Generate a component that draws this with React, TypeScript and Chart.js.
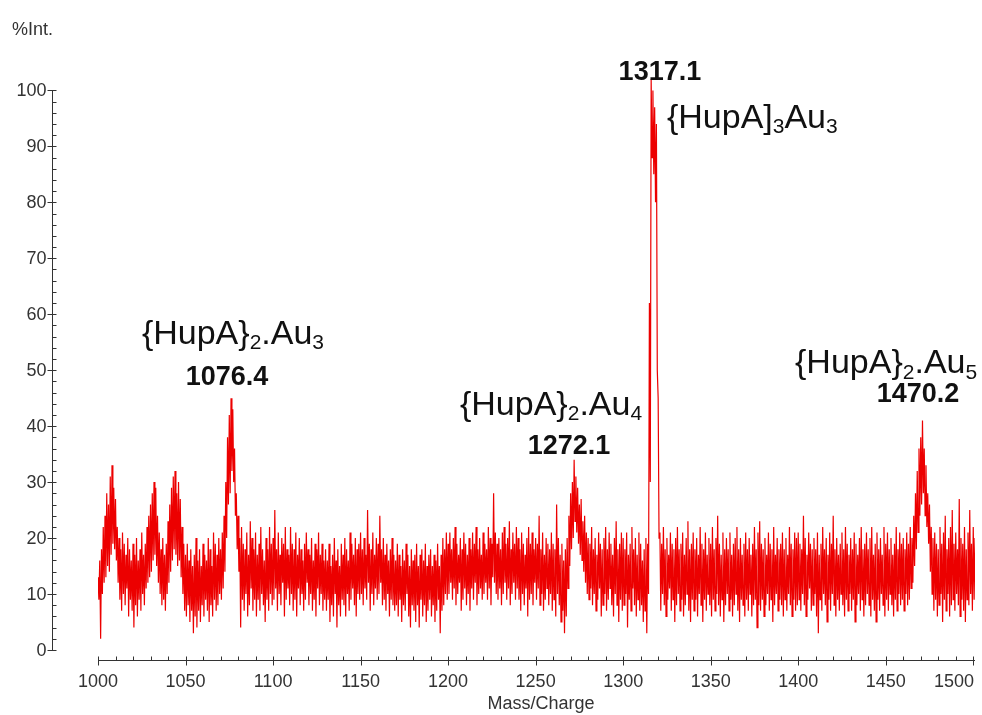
import React, { useEffect, useRef } from 'react';
import { Chart, registerables } from 'chart.js';

Chart.register(...registerables);

// First m/z of the data; each array entry covers one m/z unit.
const mzStart = 1000;

// Upper (hi) and lower (lo) edge of the noisy trace, per m/z unit.
const hi1000 = [
  13, 16, 18, 22, 24, 28, 26, 31, 33, 29,
  27, 22, 20, 18, 21, 19, 17, 20, 18, 16,
  19, 17, 20, 16, 18, 21, 17, 19, 22, 24,
  26, 28, 30, 29, 24, 21, 18, 20, 17, 19,
  23, 26, 29, 31, 32, 28, 30, 27, 22, 19,
  17, 19, 16, 18, 15, 17, 20, 16, 18, 15,
  19, 17, 16, 20, 18, 15, 21, 19, 17, 20,
  18, 21, 24, 30, 38, 42, 45, 43, 36, 28,
  24, 20, 22, 19, 18, 21, 17, 23, 20, 18,
  21, 17, 19, 22, 18, 16, 20, 18, 22, 19,
];
const lo1000 = [
  9, 2, 10, 12, 13, 15, 14, 17, 19, 18,
  16, 12, 9, 7, 10, 8, 11, 6, 9, 7,
  4, 8, 6, 9, 7, 10, 8, 11, 12, 13,
  14, 16, 17, 15, 12, 10, 8, 9, 7, 10,
  12, 14, 16, 18, 17, 15, 16, 13, 10, 7,
  6, 8, 5, 7, 3, 6, 4, 7, 5, 8,
  6, 9, 7, 5, 8, 6, 9, 7, 8, 10,
  9, 11, 14, 20, 26, 28, 32, 30, 24, 18,
  14, 4, 9, 7, 10, 6, 8, 11, 7, 9,
  6, 9, 7, 10, 8, 5, 9, 7, 10, 8,
];

const hi1100 = [
  20, 25, 18, 21, 17, 20, 19, 22, 18, 17,
  22, 19, 18, 21, 17, 20, 18, 16, 19, 21,
  18, 17, 20, 16, 19, 18, 21, 17, 19, 16,
  18, 16, 19, 15, 17, 20, 16, 18, 15, 19,
  17, 20, 18, 16, 21, 19, 17, 20, 18, 19,
  21, 18, 20, 17, 25, 19, 18, 21, 17, 20,
  19, 24, 18, 20, 17, 19, 16, 18, 20, 17,
  16, 19, 17, 15, 18, 16, 19, 17, 15, 18,
  16, 17, 19, 15, 17, 18, 16, 19, 15, 17,
  18, 15, 17, 16, 19, 15, 17, 20, 18, 21,
];
const lo1100 = [
  9, 11, 7, 10, 8, 12, 6, 9, 11, 8,
  10, 7, 9, 6, 11, 8, 10, 7, 9, 12,
  8, 10, 7, 9, 6, 11, 8, 10, 7, 9,
  7, 9, 5, 8, 6, 10, 4, 8, 6, 9,
  8, 6, 10, 7, 9, 11, 8, 6, 10, 9,
  10, 8, 11, 9, 12, 7, 10, 8, 11, 9,
  10, 12, 8, 9, 7, 10, 6, 9, 8, 7,
  8, 6, 9, 5, 8, 7, 10, 6, 4, 8,
  7, 5, 8, 4, 9, 6, 8, 5, 7, 9,
  6, 8, 5, 7, 9, 3, 7, 8, 10, 9,
];

const hi1200 = [
  19, 21, 18, 20, 22, 19, 17, 20, 18, 21,
  19, 17, 20, 18, 21, 19, 22, 18, 20, 17,
  21, 19, 18, 22, 20, 19, 28, 21, 19, 20,
  18, 21, 22, 19, 20, 23, 18, 21, 19, 22,
  20, 18, 21, 19, 17, 20, 22, 19, 21, 18,
  20, 19, 24, 18, 21, 17, 20, 19, 18, 21,
  19, 18, 26, 20, 17, 19, 16, 18, 20, 24,
  28, 30, 34, 31, 29, 26, 27, 23, 24, 21,
  20, 19, 22, 18, 20, 17, 21, 19, 18, 20,
  22, 18, 21, 19, 17, 20, 23, 18, 19, 21,
];
const lo1200 = [
  10, 12, 9, 11, 8, 10, 12, 7, 9, 11,
  8, 10, 7, 11, 9, 12, 8, 10, 11, 9,
  10, 12, 9, 11, 8, 13, 12, 10, 9, 11,
  8, 10, 12, 9, 11, 8, 10, 12, 9, 11,
  9, 7, 10, 8, 11, 6, 9, 10, 8, 12,
  9, 11, 8, 10, 7, 9, 11, 8, 10, 7,
  9, 6, 10, 8, 5, 7, 3, 6, 11, 15,
  18, 20, 23, 21, 19, 17, 16, 14, 12, 10,
  9, 11, 8, 10, 7, 9, 11, 6, 8, 10,
  7, 9, 11, 8, 6, 10, 8, 5, 9, 7,
];

const hi1300 = [
  20, 18, 21, 17, 19, 22, 18, 20, 17, 21,
  19, 16, 18, 20, 19, 62, 102, 100, 97, 94,
  45, 21, 19, 22, 18, 20, 17, 21, 19, 18,
  20, 22, 18, 19, 21, 17, 20, 23, 18, 19,
  21, 18, 20, 17, 22, 19, 18, 21, 17, 20,
  19, 22, 18, 20, 24, 19, 17, 21, 18, 20,
  18, 21, 17, 19, 20, 22, 18, 20, 17, 19,
  21, 18, 20, 17, 19, 22, 18, 21, 23, 19,
  18, 20, 17, 21, 19, 18, 22, 17, 20, 18,
  19, 21, 18, 20, 17, 22, 19, 18, 21, 20,
];
const lo1300 = [
  8, 10, 4, 9, 7, 11, 8, 6, 9, 7,
  8, 5, 7, 3, 10, 30, 88, 85, 80, 50,
  20, 7, 10, 8, 6, 9, 11, 7, 9, 5,
  8, 10, 7, 9, 6, 8, 10, 7, 5, 9,
  7, 9, 6, 10, 8, 5, 9, 7, 10, 8,
  6, 9, 7, 10, 8, 6, 9, 5, 8, 10,
  7, 9, 6, 8, 10, 7, 5, 9, 8, 6,
  9, 7, 10, 6, 8, 9, 4, 8, 7, 9,
  6, 8, 10, 7, 9, 5, 8, 10, 7, 9,
  8, 6, 9, 7, 10, 8, 6, 9, 7, 8,
];

const hi1400 = [
  21, 19, 18, 24, 20, 17, 21, 19, 18, 20,
  18, 21, 17, 19, 22, 18, 20, 17, 21, 19,
  24, 18, 20, 17, 19, 21, 18, 22, 19, 17,
  20, 18, 21, 19, 17, 20, 22, 18, 19, 21,
  18, 20, 22, 17, 19, 21, 18, 20, 17, 22,
  19, 21, 18, 20, 17, 19, 22, 18, 21, 19,
  20, 18, 21, 19, 22, 20, 24, 28, 32, 36,
  38, 41, 36, 33, 28, 26, 22, 20, 21, 19,
  18, 22, 19, 21, 24, 18, 20, 22, 25, 19,
  21, 18, 27, 20, 19, 22, 18, 21, 25, 19,
  22, 20,
];
const lo1400 = [
  9, 7, 10, 8, 6, 9, 11, 7, 8, 10,
  6, 3, 9, 7, 10, 8, 5, 9, 7, 10,
  8, 6, 9, 7, 10, 8, 6, 9, 7, 10,
  7, 9, 5, 8, 10, 7, 9, 6, 8, 10,
  8, 6, 9, 7, 5, 9, 7, 10, 8, 6,
  9, 7, 10, 8, 6, 9, 7, 10, 8, 9,
  7, 10, 8, 9, 11, 12, 15, 18, 21, 24,
  26, 28, 24, 22, 19, 14, 10, 7, 9, 6,
  8, 10, 5, 9, 7, 10, 6, 8, 9, 7,
  10, 8, 6, 9, 7, 5, 9, 8, 10, 7,
  9, 8,
];

const xTickLabels = [1000, 1050, 1100, 1150, 1200, 1250, 1300, 1350, 1400, 1450, 1500];
const yTickLabels = [0, 10, 20, 30, 40, 50, 60, 70, 80, 90, 100];

// peak labels, anchored at (m/z, %Int.)
const peakLabels = [
  { text: '1076.4', mz: 1073.7, int: 48.75 },
  { text: '1272.1', mz: 1269.1, int: 36.4 },
  { text: '1317.1', mz: 1321.0, int: 103.2 },
  { text: '1470.2', mz: 1468.4, int: 45.7 },
];

// ion formula labels: runs of [text, isSubscript]
const formulaLabels = [
  { runs: [['{HupA}', 0], ['2', 1], ['.Au', 0], ['3', 1]], mz: 1077.1, int: 56.4, align: 'center' },
  { runs: [['{HupA}', 0], ['2', 1], ['.Au', 0], ['4', 1]], mz: 1258.8, int: 43.75, align: 'center' },
  { runs: [['{HupA]', 0], ['3', 1], ['Au', 0], ['3', 1]], mz: 1325.0, int: 95, align: 'left' },
  { runs: [['{HupA}', 0], ['2', 1], ['.Au', 0], ['5', 1]], mz: 1450.2, int: 51.1, align: 'center' },
];

const FONT = '"Liberation Sans", Arial, sans-serif';

const spectrumAxesPlugin = {
  id: 'spectrumAxes',
  afterDraw(chart: any) {
    const ctx: CanvasRenderingContext2D = chart.ctx;
    const xs = chart.scales.x;
    const ys = chart.scales.y;
    ctx.save();

    // ---- y axis (offset to the left) ----
    const ax = 52.5;
    ctx.strokeStyle = '#333';
    ctx.lineWidth = 1;
    ctx.beginPath();
    ctx.moveTo(ax, Math.round(ys.getPixelForValue(100)) + 0.5);
    ctx.lineTo(ax, Math.round(ys.getPixelForValue(0)) + 0.5);
    for (let v = 0; v <= 100; v += 2) {
      const py = Math.round(ys.getPixelForValue(v)) + 0.5;
      const major = v % 10 === 0;
      ctx.moveTo(major ? ax - 5 : ax, py);
      ctx.lineTo(ax + 4, py);
    }
    ctx.stroke();

    ctx.fillStyle = '#333';
    ctx.font = `18px ${FONT}`;
    ctx.textAlign = 'right';
    ctx.textBaseline = 'middle';
    yTickLabels.forEach((v) => {
      ctx.fillText(String(v), ax - 6, ys.getPixelForValue(v) + 1);
    });

    // ---- x axis (offset below) ----
    const ay = 660.5;
    const xEnd = Math.round(xs.getPixelForValue(1501));
    ctx.beginPath();
    ctx.moveTo(Math.round(xs.getPixelForValue(1000)), ay);
    ctx.lineTo(xEnd, ay);
    for (let v = 1000; v <= 1500; v += 10) {
      const px = Math.round(xs.getPixelForValue(v)) + 0.5;
      const major = v % 50 === 0;
      ctx.moveTo(px, ay - 4);
      ctx.lineTo(px, major ? ay + 5 : ay);
    }
    ctx.stroke();

    ctx.textAlign = 'center';
    xTickLabels.forEach((v) => {
      const w = ctx.measureText(String(v)).width;
      const cx = Math.min(xs.getPixelForValue(v), xEnd - 1 - w / 2);
      ctx.fillText(String(v), cx, 682);
    });

    // axis titles
    ctx.textAlign = 'left';
    ctx.fillText('%Int.', 12, 30);
    ctx.textAlign = 'center';
    ctx.fillText('Mass/Charge', 541, 704);

    // ---- peak labels ----
    ctx.fillStyle = '#111';
    ctx.font = `bold 27px ${FONT}`;
    ctx.textAlign = 'center';
    peakLabels.forEach((p) => {
      ctx.fillText(p.text, xs.getPixelForValue(p.mz), ys.getPixelForValue(p.int));
    });

    // ---- formula labels with subscripts ----
    const baseFont = `34px ${FONT}`;
    const subFont = `21px ${FONT}`;
    ctx.textAlign = 'left';
    formulaLabels.forEach((f) => {
      let total = 0;
      const widths = f.runs.map(([t, s]) => {
        ctx.font = s ? subFont : baseFont;
        const w = ctx.measureText(t as string).width;
        total += w;
        return w;
      });
      const cx = xs.getPixelForValue(f.mz);
      const cy = ys.getPixelForValue(f.int);
      let x = f.align === 'center' ? cx - total / 2 : cx;
      f.runs.forEach(([t, s], i) => {
        ctx.font = s ? subFont : baseFont;
        ctx.fillText(t as string, x, s ? cy + 9 : cy);
        x += widths[i];
      });
    });

    ctx.restore();
  },
};

export default function App() {
  const canvasRef = useRef<HTMLCanvasElement>(null);

  useEffect(() => {
    const hi = [...hi1000, ...hi1100, ...hi1200, ...hi1300, ...hi1400];
    const lo = [...lo1000, ...lo1100, ...lo1200, ...lo1300, ...lo1400];
    const points: { x: number; y: number }[] = [];
    hi.forEach((h, i) => {
      points.push({ x: mzStart + i, y: h });
      points.push({ x: mzStart + i + 0.5, y: lo[i] });
    });
    const chart = new Chart(canvasRef.current as HTMLCanvasElement, {
      type: 'line',
      data: {
        datasets: [
          {
            data: points,
            borderColor: 'rgb(236,0,0)',
            borderWidth: 1.2,
            pointRadius: 0,
            tension: 0,
            fill: false,
          },
        ],
      },
      options: {
        animation: false,
        responsive: false,
        maintainAspectRatio: false,
        devicePixelRatio: 1,
        layout: { padding: { left: 98, right: 7, top: 68, bottom: 65 } },
        plugins: { legend: { display: false }, tooltip: { enabled: false } },
        events: [],
        scales: {
          x: { type: 'linear', min: 1000, max: 1501, display: false },
          y: { type: 'linear', min: 0, max: 104, display: false },
        },
      },
      plugins: [spectrumAxesPlugin],
    });
    return () => chart.destroy();
  }, []);

  return (
    <div style={{ position: 'absolute', left: 0, top: 0, width: 982, height: 715, background: '#fff' }}>
      <canvas ref={canvasRef} width={982} height={715} style={{ display: 'block', width: 982, height: 715 }} />
    </div>
  );
}
